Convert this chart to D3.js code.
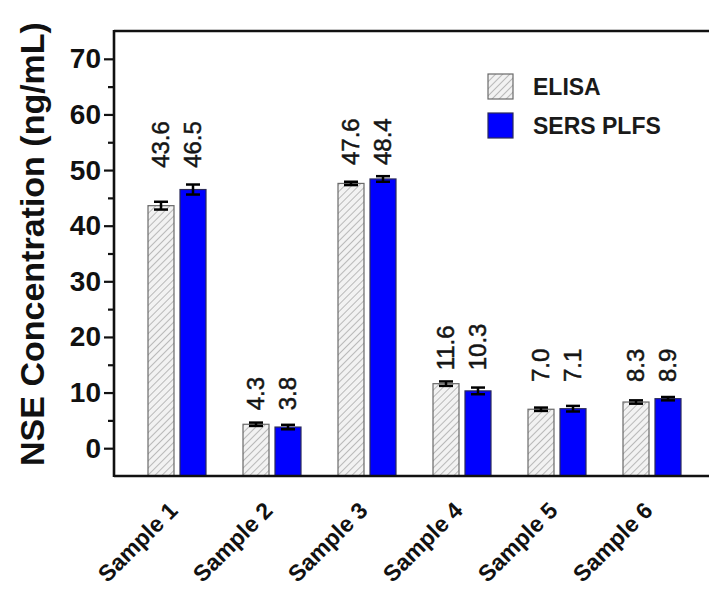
<!DOCTYPE html>
<html>
<head>
<meta charset="utf-8">
<script src="https://d3js.org/d3.v7.min.js"></script>
<style>
body{margin:0;background:#fff}
svg{display:block;font-family:'Liberation Sans',Arial,sans-serif}
</style>
</head>
<body>
<div id="chart"></div>
<script>
// data
const samples = ["Sample 1", "Sample 2", "Sample 3", "Sample 4", "Sample 5", "Sample 6"];
const series = ["ELISA", "SERS PLFS"];
const elisa = [43.6, 4.3, 47.6, 11.6, 7.0, 8.3];
const sers = [46.5, 3.8, 48.4, 10.3, 7.1, 8.9];
const elisaErr = [0.7, 0.3, 0.3, 0.4, 0.3, 0.3];
const sersErr = [0.9, 0.4, 0.5, 0.6, 0.5, 0.3];
// where each pair of value labels starts (data units)
const labelBase = [50.4, 6.8, 50.9, 14.0, 11.9, 11.9];
const majorTicks = [0, 10, 20, 30, 40, 50, 60, 70];
const minorTicks = [5, 15, 25, 35, 45, 55, 65];

const W = 709, H = 595;
const svg = d3.select("#chart").append("svg").attr("width", W).attr("height", H);

const defs = svg.append("defs");
const pat = defs.append("pattern")
    .attr("id", "hatch")
    .attr("patternUnits", "userSpaceOnUse")
    .attr("width", 5).attr("height", 5)
    .attr("patternTransform", "rotate(45)");
pat.append("rect").attr("width", 5).attr("height", 5).attr("fill", "#f2f2f2");
pat.append("line").attr("x1", 0).attr("y1", 0).attr("x2", 0).attr("y2", 5)
    .attr("stroke", "#9a9a9a").attr("stroke-width", 1.3);

const mLeft = 114, mRight = 714, mTop = 31, mBottom = 476;

const x = d3.scaleBand().domain(samples).range([129.5, 699.5]);
const x1 = d3.scaleBand().domain(series).range([-29, 29]).paddingInner(0.1875);
const y = d3.scaleLinear().domain([-5, 75]).range([mBottom, mTop]);

const rows = samples.map((s, i) => ({
  sample: s,
  base: labelBase[i],
  vals: [
    {key: "ELISA", v: elisa[i], e: elisaErr[i]},
    {key: "SERS PLFS", v: sers[i], e: sersErr[i]}
  ]
}));

const g = svg.selectAll("g.grp").data(rows).enter().append("g")
    .attr("class", "grp")
    .attr("transform", d => `translate(${x(d.sample) + x.bandwidth() / 2},0)`);

g.selectAll("rect").data(d => d.vals).enter().append("rect")
    .attr("x", d => x1(d.key))
    .attr("width", x1.bandwidth())
    .attr("y", d => y(d.v))
    .attr("height", d => y(-5) - y(d.v))
    .attr("fill", d => d.key === "ELISA" ? "url(#hatch)" : "#0000ff")
    .attr("stroke", d => d.key === "ELISA" ? "#6a6a6a" : "#2a2a5a")
    .attr("stroke-width", 1.2);

// error bars
const eb = g.selectAll("g.err").data(d => d.vals).enter().append("g").attr("class", "err")
    .attr("transform", d => `translate(${x1(d.key) + x1.bandwidth() / 2},0)`);
eb.append("line").attr("x1", 0).attr("x2", 0)
    .attr("y1", d => y(d.v - d.e)).attr("y2", d => y(d.v + d.e))
    .attr("stroke", "#000").attr("stroke-width", 2.5);
eb.selectAll("line.cap").data(d => [d.v - d.e, d.v + d.e]).enter().append("line")
    .attr("class", "cap")
    .attr("x1", -7).attr("x2", 7)
    .attr("y1", d => y(d)).attr("y2", d => y(d))
    .attr("stroke", "#000").attr("stroke-width", 2.5);

// value labels
g.each(function(d) {
  d3.select(this).selectAll("text.val").data(d.vals).enter().append("text")
      .attr("class", "val")
      .attr("transform", v => `translate(${x1(v.key) + x1.bandwidth() / 2 + 8},${y(d.base)}) rotate(-90)`)
      .attr("font-size", 24)
      .attr("fill", "#151515")
      .attr("stroke", "#151515")
      .attr("stroke-width", 0.5)
      .text(v => v.v.toFixed(1));
});

// axes
const axisL = svg.append("g").attr("transform", `translate(${mLeft},0)`)
    .call(d3.axisLeft(y).tickValues(majorTicks).tickSize(10).tickPadding(3).tickFormat(d3.format("d")));
axisL.select(".domain").remove();
axisL.selectAll(".tick line").attr("stroke", "#111").attr("stroke-width", 2.2);
axisL.selectAll(".tick text").attr("font-size", 28).attr("font-weight", "bold")
    .attr("fill", "#111").attr("font-family", "'Liberation Sans',Arial,sans-serif");

const axisM = svg.append("g").attr("transform", `translate(${mLeft},0)`)
    .call(d3.axisLeft(y).tickValues(minorTicks).tickSize(6).tickFormat(""));
axisM.select(".domain").remove();
axisM.selectAll(".tick line").attr("stroke", "#111").attr("stroke-width", 2.2);

svg.append("line").attr("x1", mLeft).attr("x2", mLeft).attr("y1", mTop - 1).attr("y2", mBottom + 1)
    .attr("stroke", "#111").attr("stroke-width", 2.6);
svg.append("line").attr("x1", mLeft).attr("x2", mRight).attr("y1", mTop).attr("y2", mTop)
    .attr("stroke", "#111").attr("stroke-width", 2.6);
svg.append("line").attr("x1", mLeft).attr("x2", mRight).attr("y1", mBottom).attr("y2", mBottom)
    .attr("stroke", "#111").attr("stroke-width", 2.6);

// x labels
svg.selectAll("text.xl").data(samples).enter().append("text")
    .attr("class", "xl")
    .attr("transform", d => `translate(${x(d) + x.bandwidth() / 2 + 2},${mBottom + 36}) rotate(-45)`)
    .attr("text-anchor", "end")
    .attr("font-size", 23)
    .attr("font-weight", "bold")
    .attr("fill", "#111")
    .text(d => d);

// y title
svg.append("text")
    .attr("transform", `translate(44,244) rotate(-90)`)
    .attr("text-anchor", "middle")
    .attr("font-size", 34)
    .attr("font-weight", "bold")
    .attr("fill", "#111")
    .text("NSE Concentration (ng/mL)");

// legend
const leg = svg.append("g").attr("transform", "translate(488,74)");
const li = leg.selectAll("g").data(series).enter().append("g")
    .attr("transform", (d, i) => `translate(0,${i * 39})`);
li.append("rect").attr("width", 25).attr("height", 25)
    .attr("fill", d => d === "ELISA" ? "url(#hatch)" : "#0000ff")
    .attr("stroke", d => d === "ELISA" ? "#6a6a6a" : "#2a2a5a")
    .attr("stroke-width", 1.2);
li.append("text").attr("x", 45).attr("y", 21)
    .attr("font-size", 23).attr("font-weight", "bold").attr("fill", "#1a1a1a")
    .text(d => d);
</script>
</body>
</html>
